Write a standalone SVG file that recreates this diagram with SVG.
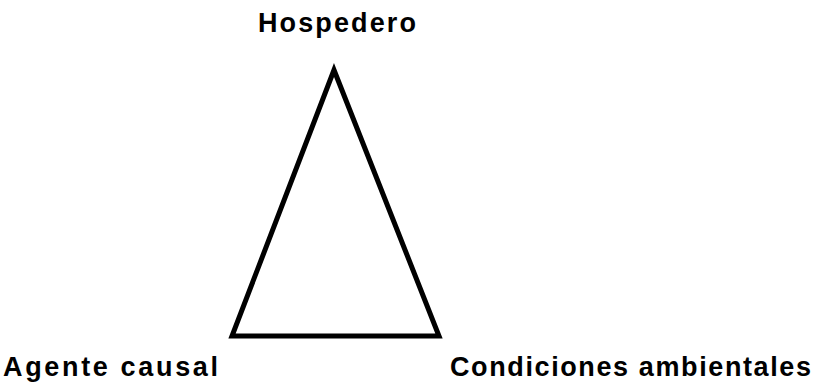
<svg xmlns="http://www.w3.org/2000/svg" width="819" height="385" viewBox="0 0 819 385">
<style>
.lbl{font-family:"Liberation Sans",Arial,sans-serif;font-weight:bold;font-size:27px;fill:#000}
.edge{fill:none;stroke:#000;stroke-width:5;stroke-linejoin:miter}
</style>
<rect width="819" height="385" fill="#fff"/>
<g id="connectors">
<polygon class="edge" points="334,70 232,336 439,336"/>
</g>
<g id="hospedero"><text class="lbl" x="258" y="32" textLength="158" lengthAdjust="spacing">Hospedero</text></g>
<g id="agente"><text class="lbl" x="3" y="376" textLength="215" lengthAdjust="spacing">Agente causal</text></g>
<g id="condiciones"><text class="lbl" x="450" y="376" textLength="361" lengthAdjust="spacing">Condiciones ambientales</text></g>
</svg>
